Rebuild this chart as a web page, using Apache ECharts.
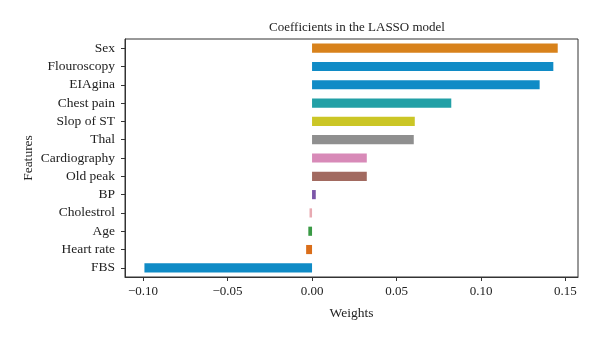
<!DOCTYPE html>
<html>
<head>
<meta charset="utf-8">
<script src="https://cdn.jsdelivr.net/npm/echarts@6/dist/echarts.min.js"></script>
<style>
  html, body { margin: 0; padding: 0; background: #ffffff; }
  #chart { width: 600px; height: 340px; }
</style>
</head>
<body>
<div id="chart"></div>
<script>
// LASSO coefficients per feature, listed top to bottom
const features = ['Sex', 'Flouroscopy', 'EIAgina', 'Chest pain', 'Slop of ST', 'Thal',
  'Cardiography', 'Old peak', 'BP', 'Cholestrol', 'Age', 'Heart rate', 'FBS'];
const weights = [0.1454, 0.1428, 0.1347, 0.0824, 0.0608, 0.0602,
  0.0324, 0.0324, 0.0022, -0.0015, -0.0022, -0.0035, -0.0992];
const xTicks = [-0.10, -0.05, 0.00, 0.05, 0.10, 0.15];

// one colour per bar
const barColors = ['#d8821b', '#108bc6', '#108bc6', '#22a0a6', '#cbc626', '#8f8f8f',
  '#d88ab8', '#a26a60', '#7c56a8', '#e8aab2', '#3a9a45', '#da6e1a', '#108bc6'];

const font = '"Liberation Serif", "DejaVu Serif", serif';
const ink = '#222';

const chart = echarts.init(document.getElementById('chart'), null, { renderer: 'canvas' });
chart.setOption({
  animation: false,
  backgroundColor: '#ffffff',
  title: {
    text: 'Coefficients in the LASSO model',
    left: 352, top: 16, textAlign: 'center',
    textStyle: { fontFamily: font, fontSize: 13, fontWeight: 'normal', color: ink }
  },
  grid: {
    left: 125, right: 22, top: 39, bottom: 63,
    show: true, borderColor: '#333', borderWidth: 1
  },
  xAxis: {
    type: 'value',
    min: -0.1107, max: 0.1574,
    name: 'Weights', nameLocation: 'middle', nameGap: 29,
    nameMoveOverlap: false,
    nameTextStyle: { fontFamily: font, fontSize: 13.5, color: ink },
    axisLine: { show: true, onZero: false, lineStyle: { color: '#333', width: 1 } },
    axisTick: { show: true, length: 4, lineStyle: { color: '#333' }, customValues: xTicks },
    axisLabel: {
      fontFamily: font, fontSize: 13, color: ink, margin: 8,
      customValues: xTicks,
      formatter: v => (v < 0 ? '\u2212' : '') + Math.abs(v).toFixed(2)
    },
    splitLine: { show: false }
  },
  yAxis: {
    type: 'category',
    data: features,
    inverse: true,
    name: 'Features', nameLocation: 'middle', nameGap: 90, nameRotate: 90,
    nameMoveOverlap: false,
    nameTextStyle: { fontFamily: font, fontSize: 13.5, color: ink },
    axisLine: { show: true, onZero: false, lineStyle: { color: '#333', width: 1 } },
    axisTick: { show: true, length: 4, alignWithLabel: true, lineStyle: { color: '#333' } },
    axisLabel: { fontFamily: font, fontSize: 13.5, color: ink, margin: 10 },
    splitLine: { show: false }
  },
  series: [{
    type: 'bar',
    barWidth: '50%',
    data: weights.map((v, i) => ({ value: v, itemStyle: { color: barColors[i] } }))
  }]
});
</script>
</body>
</html>
